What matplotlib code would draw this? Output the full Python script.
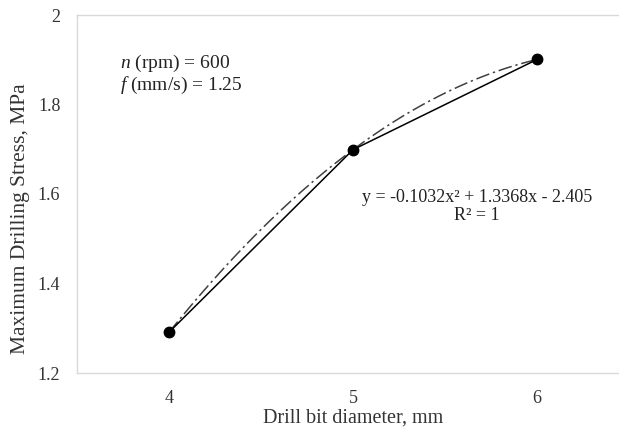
import numpy as np
import matplotlib.pyplot as plt

plt.rcParams['font.family'] = ['Liberation Serif', 'DejaVu Serif']
plt.rcParams['mathtext.fontset'] = 'custom'
plt.rcParams['mathtext.rm'] = 'Liberation Serif'
plt.rcParams['mathtext.it'] = 'Liberation Serif:italic'

diameter = [4, 5, 6]
stress = [1.291, 1.699, 1.9006]
x_ticks = [4, 5, 6]
y_ticks = [1.2, 1.4, 1.6, 1.8, 2.0]
y_tick_labels = ['1.2', '1.4', '1.6', '1.8', '2']

fig = plt.figure(figsize=(6.19, 4.34), dpi=100)
ax = fig.add_axes([77 / 619, 61 / 434, 552 / 619, 358 / 434])

# polynomial trendline from the data
coef = np.polyfit(diameter, stress, 2)
xs = np.linspace(diameter[0], diameter[-1], 200)
ax.plot(xs, np.polyval(coef, xs), color='#404040', lw=1.1,
        dashes=(9, 2.5, 1.5, 2.5))

ax.plot(diameter, stress, color='black', lw=1.1, marker='o', ms=7.5)

ax.set_xlim(3.5, 6.5)
ax.set_ylim(1.2, 2.0)
ax.set_xticks(x_ticks)
ax.set_yticks(y_ticks)
ax.set_yticklabels(y_tick_labels)
ax.tick_params(length=0, labelsize=13, colors='#333333', pad=12)
for s in ax.spines.values():
    s.set_color('#d9d9d9')
    s.set_linewidth(1)

ax.set_xlabel('Drill bit diameter, mm', fontsize=14.5, color='#333333')
ax.xaxis.set_label_coords(0.5, -0.1)
ax.set_ylabel('Maximum Drilling Stress, MPa', fontsize=15.5, color='#333333')
ax.yaxis.set_label_coords(-0.085, 0.43)

ax.text(0.078, 0.895, '$\\it{n}$ (rpm) = 600\n$\\it{f}$ (mm/s) = 1.25',
        transform=ax.transAxes, fontsize=14, color='#222222', va='top',
        linespacing=1.1)
ax.text(0.725, 0.465, 'y = -0.1032x² + 1.3368x - 2.405\nR² = 1',
        transform=ax.transAxes, fontsize=13, color='#222222', ha='center',
        va='center', linespacing=1.05)

fig.savefig('out.png', dpi=100)
